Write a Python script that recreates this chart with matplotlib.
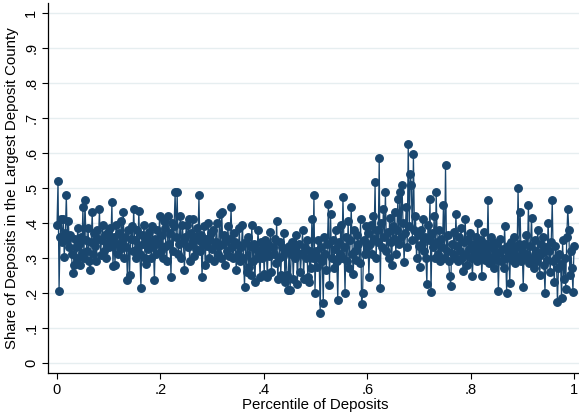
import numpy as np
import matplotlib
matplotlib.use("Agg")
import matplotlib.pyplot as plt

plt.rcParams['font.family'] = ['Liberation Sans', 'DejaVu Sans']

# Share of deposits held in the bank's largest deposit county, ordered by deposit percentile
share = [
    # 0.00 - 0.05
    0.395, 0.520, 0.205, 0.360, 0.410, 0.345, 0.410, 0.303, 0.370, 0.478, 0.350, 0.404, 0.330,
    0.365, 0.310, 0.256, 0.280, 0.355, 0.330, 0.300, 0.385, 0.340, 0.280, 0.360, 0.315,
    # 0.05 - 0.10
    0.444, 0.300, 0.464, 0.350, 0.320, 0.385, 0.290, 0.265, 0.345, 0.430, 0.310, 0.370, 0.335,
    0.290, 0.380, 0.355, 0.438, 0.308, 0.350, 0.395, 0.320, 0.365, 0.300, 0.340, 0.375,
    # 0.10 - 0.15
    0.330, 0.385, 0.350, 0.458, 0.277, 0.360, 0.280, 0.395, 0.340, 0.310, 0.370, 0.325, 0.405,
    0.345, 0.430, 0.300, 0.360, 0.330, 0.236, 0.380, 0.250, 0.355, 0.390, 0.320, 0.440,
    # 0.15 - 0.20
    0.350, 0.300, 0.380, 0.330, 0.435, 0.310, 0.213, 0.365, 0.340, 0.395, 0.300, 0.283, 0.360,
    0.325, 0.375, 0.345, 0.300, 0.390, 0.330, 0.236, 0.355, 0.310, 0.380, 0.340, 0.418,
    # 0.20 - 0.25
    0.320, 0.365, 0.300, 0.405, 0.385, 0.335, 0.290, 0.418, 0.340, 0.370, 0.245, 0.400, 0.320,
    0.390, 0.487, 0.360, 0.487, 0.310, 0.340, 0.420, 0.300, 0.395, 0.345, 0.265, 0.360,
    # 0.25 - 0.30
    0.395, 0.330, 0.410, 0.290, 0.370, 0.340, 0.410, 0.305, 0.360, 0.325, 0.385, 0.350, 0.478,
    0.320, 0.365, 0.245, 0.340, 0.390, 0.280, 0.355, 0.335, 0.400, 0.300, 0.350, 0.370,
    # 0.30 - 0.35
    0.325, 0.380, 0.290, 0.345, 0.400, 0.310, 0.335, 0.425, 0.300, 0.430, 0.340, 0.365, 0.280,
    0.350, 0.320, 0.390, 0.305, 0.355, 0.444, 0.330, 0.300, 0.370, 0.345, 0.265, 0.340,
    # 0.35 - 0.40
    0.310, 0.385, 0.290, 0.330, 0.395, 0.300, 0.216, 0.345, 0.260, 0.360, 0.275, 0.335, 0.250,
    0.395, 0.290, 0.340, 0.230, 0.325, 0.300, 0.380, 0.315, 0.245, 0.345, 0.300, 0.330,
    # 0.40 - 0.45
    0.255, 0.350, 0.320, 0.245, 0.340, 0.305, 0.375, 0.260, 0.330, 0.310, 0.355, 0.285, 0.406,
    0.240, 0.300, 0.345, 0.250, 0.330, 0.305, 0.370, 0.230, 0.320, 0.250, 0.207, 0.335,
    # 0.45 - 0.50
    0.207, 0.310, 0.345, 0.240, 0.325, 0.300, 0.365, 0.225, 0.315, 0.340, 0.260, 0.310, 0.380,
    0.240, 0.330, 0.300, 0.350, 0.245, 0.230, 0.320, 0.270, 0.410, 0.300, 0.480, 0.200,
    # 0.50 - 0.55
    0.320, 0.275, 0.350, 0.300, 0.141, 0.330, 0.290, 0.170, 0.360, 0.310, 0.265, 0.340, 0.455,
    0.222, 0.426, 0.300, 0.350, 0.270, 0.325, 0.380, 0.290, 0.180, 0.345, 0.310, 0.395,
    # 0.55 - 0.60
    0.300, 0.475, 0.330, 0.200, 0.360, 0.290, 0.405, 0.270, 0.350, 0.444, 0.310, 0.255, 0.380,
    0.320, 0.295, 0.365, 0.340, 0.285, 0.410, 0.167, 0.200, 0.350, 0.310, 0.390, 0.330,
    # 0.60 - 0.65
    0.370, 0.245, 0.340, 0.395, 0.310, 0.420, 0.355, 0.515, 0.300, 0.380, 0.345, 0.585, 0.213,
    0.400, 0.330, 0.440, 0.360, 0.487, 0.320, 0.375, 0.300, 0.415, 0.345, 0.280, 0.390,
    # 0.65 - 0.70
    0.355, 0.430, 0.310, 0.380, 0.467, 0.340, 0.487, 0.360, 0.507, 0.400, 0.288, 0.370, 0.445,
    0.330, 0.625, 0.390, 0.540, 0.507, 0.350, 0.596, 0.380, 0.420, 0.300, 0.365, 0.335,
    # 0.70 - 0.75
    0.274, 0.380, 0.340, 0.410, 0.320, 0.360, 0.300, 0.225, 0.395, 0.350, 0.467, 0.202, 0.370,
    0.330, 0.420, 0.300, 0.487, 0.345, 0.310, 0.380, 0.290, 0.355, 0.330, 0.452, 0.300,
    # 0.75 - 0.80
    0.565, 0.320, 0.365, 0.290, 0.248, 0.220, 0.340, 0.310, 0.375, 0.300, 0.424, 0.335, 0.290,
    0.360, 0.320, 0.385, 0.300, 0.262, 0.345, 0.410, 0.310, 0.280, 0.355, 0.325, 0.370,
    # 0.80 - 0.85
    0.300, 0.248, 0.340, 0.315, 0.360, 0.290, 0.400, 0.330, 0.305, 0.350, 0.248, 0.325, 0.375,
    0.295, 0.340, 0.310, 0.464, 0.285, 0.330, 0.360, 0.300, 0.345, 0.270, 0.320, 0.295,
    # 0.85 - 0.90
    0.340, 0.205, 0.315, 0.355, 0.290, 0.325, 0.270, 0.390, 0.300, 0.200, 0.335, 0.310, 0.228,
    0.345, 0.295, 0.320, 0.360, 0.285, 0.330, 0.305, 0.500, 0.340, 0.432, 0.290, 0.320,
    # 0.90 - 0.95
    0.216, 0.340, 0.300, 0.365, 0.310, 0.452, 0.285, 0.335, 0.415, 0.300, 0.270, 0.350, 0.320,
    0.290, 0.380, 0.305, 0.250, 0.340, 0.315, 0.360, 0.280, 0.200, 0.330, 0.295, 0.400,
    # 0.95 - 1.00
    0.320, 0.260, 0.345, 0.464, 0.290, 0.230, 0.335, 0.300, 0.173, 0.270, 0.310, 0.283, 0.185,
    0.350, 0.240, 0.300, 0.210, 0.360, 0.440, 0.380, 0.250, 0.320, 0.270, 0.202, 0.334,
]
percentile = np.linspace(0.0, 1.0, len(share))

x_ticks = [0, 0.2, 0.4, 0.6, 0.8, 1.0]
x_tick_labels = ["0", ".2", ".4", ".6", ".8", "1"]
y_ticks = [0, 0.1, 0.2, 0.3, 0.4, 0.5, 0.6, 0.7, 0.8, 0.9, 1.0]
y_tick_labels = ["0", ".1", ".2", ".3", ".4", ".5", ".6", ".7", ".8", ".9", "1"]

navy = "#1a476f"
grid_color = "#e6eef0"

W, H = 579, 417
fig = plt.figure(figsize=(W / 100, H / 100), dpi=100)
ax = fig.add_axes([48 / W, 44 / H, 535 / W, 370.5 / H])

ax.set_xlim(-0.0174, 1.0174)
ax.set_ylim(-0.029, 1.029)

for yv in y_ticks:
    ax.axhline(yv, color=grid_color, lw=1.0, zorder=0)

ax.plot(percentile, share, color=navy, lw=0.9, marker="o", markersize=5.4,
        markerfacecolor=navy, markeredgecolor=navy, zorder=3)

ax.set_xticks(x_ticks)
ax.set_xticklabels(x_tick_labels)
ax.set_yticks(y_ticks)
ax.set_yticklabels(y_tick_labels, rotation=90, va="center")

ax.tick_params(axis="both", direction="out", length=4, width=0.8, colors="black",
               labelsize=10.5, pad=3)

for side in ("top", "right"):
    ax.spines[side].set_visible(False)
for side in ("left", "bottom"):
    ax.spines[side].set_linewidth(0.9)
    ax.spines[side].set_color("black")

ax.set_xlabel("Percentile of Deposits", fontsize=10.8, labelpad=1)
ax.set_ylabel("Share of Deposits in the Largest Deposit County", fontsize=10.8, labelpad=4)

fig.savefig("out.png", dpi=100)
